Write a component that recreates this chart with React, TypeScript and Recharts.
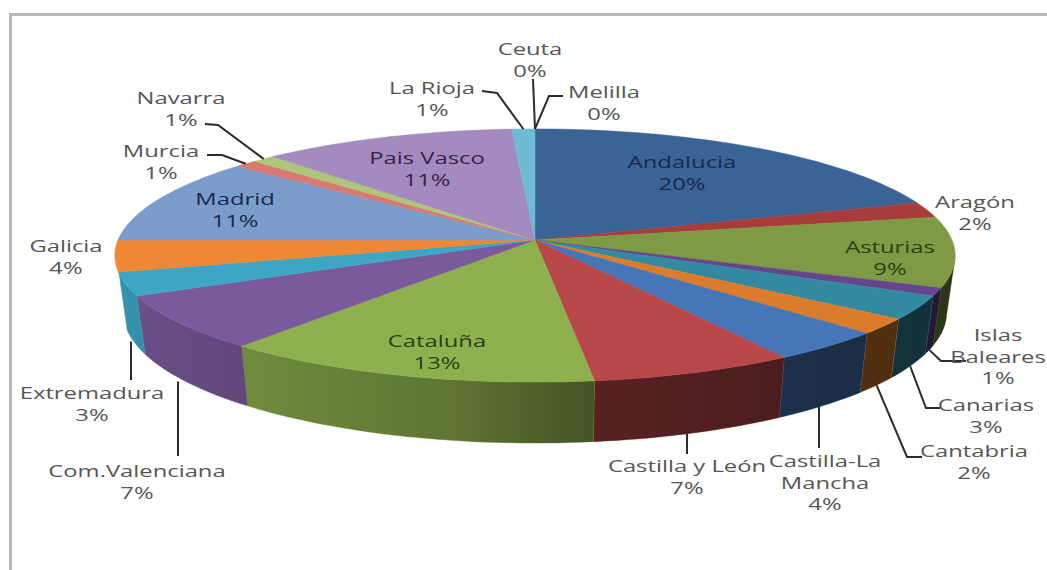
import React from "react";
import { PieChart, Pie, Cell } from "recharts";

// Regions in clockwise order starting from twelve o'clock
const regions = [
  "Andalucía", "Aragón", "Asturias", "Islas Baleares", "Canarias", "Cantabria",
  "Castilla-La Mancha", "Castilla y León", "Cataluña", "Com.Valenciana", "Extremadura",
  "Galicia", "Madrid", "Murcia", "Navarra", "País Vasco", "La Rioja", "Ceuta", "Melilla",
];
const shares = [20, 2, 9, 1, 3, 2, 4, 7, 13, 7, 3, 4, 11, 1, 1, 11, 1, 0, 0];
const topColors = [
  "#3A6396", "#A83C3A", "#7F9A44", "#65458C", "#33899F", "#DB7C2C",
  "#4676B8", "#B8474A", "#8FB04E", "#7A5A9C", "#3CA6C4",
  "#EE8834", "#7B9DCC", "#D97A72", "#AEC67C", "#A38ABF", "#6FBBD2", "#4BACC6", "#4F81BD",
];

const chartData = regions.map((name, i) => ({ name, value: shares[i] }));

// Label layout: centre x, centre y of the first line, optional leader elbow points
type Placement = {
  x: number;
  y: number;
  lines?: string[];
  color?: string;
  leader?: number[][];
  plumb?: boolean; // leader drops straight from its last elbow
};
const OUTSIDE_TEXT = "#555555";
const placements: Record<string, Placement> = {
  "Andalucía": { x: 682, y: 162, lines: ["Andalucia"], color: "#16294A" },
  "Aragón": { x: 975, y: 202 },
  "Asturias": { x: 890, y: 247, color: "#2E3E14" },
  "Islas Baleares": { x: 998, y: 335, lines: ["Islas", "Baleares"], leader: [[966, 361], [941, 361]] },
  "Canarias": { x: 986, y: 405, leader: [[940, 408], [926, 408]] },
  "Cantabria": { x: 974, y: 451, leader: [[922, 457], [907, 457]] },
  "Castilla-La Mancha": { x: 825, y: 461, lines: ["Castilla-La", "Mancha"], leader: [[819, 448]], plumb: true },
  "Castilla y León": { x: 687, y: 466, leader: [[687, 454]], plumb: true },
  "Cataluña": { x: 437, y: 341, color: "#2E3E14" },
  "Com.Valenciana": { x: 137, y: 471, leader: [[178, 456]], plumb: true },
  "Extremadura": { x: 92, y: 393, leader: [[131, 380]], plumb: true },
  "Galicia": { x: 66, y: 246 },
  "Madrid": { x: 235, y: 199, color: "#16294A" },
  "Murcia": { x: 161, y: 151, leader: [[207, 155], [222, 155]] },
  "Navarra": { x: 181, y: 98, leader: [[205, 124], [218, 125]] },
  "País Vasco": { x: 427, y: 158, lines: ["Pais Vasco"], color: "#33244E" },
  "La Rioja": { x: 432, y: 88, leader: [[482, 91], [497, 93]] },
  "Ceuta": { x: 530, y: 49, leader: [[533, 79]] },
  "Melilla": { x: 604, y: 92, leader: [[563, 96], [549, 96]] },
};

const WIDTH = 1047;
const HEIGHT = 570;
const CENTER_X = 535;
const CENTER_Y = 240;
const RADIUS = 417;
const TILT = 0.299; // vertical squash of the disc
const PERSPECTIVE = 0.1225; // front of the disc is nearer to the viewer
const DEPTH = 56; // wall height before perspective
const BASE_SCALE = 0.98; // the underside sits further away
const WALL_FROM = -8; // silhouette limits of the visible wall
const WALL_TO = -165;
const LINE_HEIGHT = 21.5;
const TEXT_STRETCH = 1.4;

// Maps a pie angle (degrees, counter-clockwise from 3 o'clock) on to the tilted disc
const project = (cx: number, cy: number, r: number, angle: number, drop = 0) => {
  const rad = (angle * Math.PI) / 180;
  const front = -Math.sin(rad);
  const s = 1 / (1 - PERSPECTIVE * front);
  const k = drop > 0 ? BASE_SCALE : 1;
  return {
    x: cx + r * k * Math.cos(rad) * s,
    y: cy + r * k * TILT * front * s + drop * s,
    front,
  };
};

const arcPoints = (cx: number, cy: number, r: number, a0: number, a1: number, drop = 0) => {
  const steps = Math.max(2, Math.ceil(Math.abs(a1 - a0) / 1.5));
  const pts: string[] = [];
  for (let i = 0; i <= steps; i++) {
    const p = project(cx, cy, r, a0 + ((a1 - a0) * i) / steps, drop);
    pts.push(`${p.x.toFixed(1)} ${p.y.toFixed(1)}`);
  }
  return pts;
};

const TopFace = (props: any) => {
  const { cx, cy, outerRadius, startAngle, endAngle, fill } = props;
  if (startAngle === endAngle) return null;
  const pts = arcPoints(cx, cy, outerRadius, startAngle, endAngle);
  const d = `M${cx} ${cy}L${pts.join("L")}Z`;
  return <path d={d} fill={fill} stroke={fill} strokeWidth={0.5} />;
};

// Outer wall of a slice, shaded darker towards the right; only the near part shows
const Wall = (props: any) => {
  const { cx, cy, outerRadius, startAngle, endAngle, fill } = props;
  const from = Math.min(startAngle, WALL_FROM);
  const to = Math.max(endAngle, WALL_TO);
  if (from <= to) return null;
  const upper = arcPoints(cx, cy, outerRadius, from, to);
  const lower = arcPoints(cx, cy, outerRadius, to, from, DEPTH);
  const d = `M${upper.join("L")}L${lower.join("L")}Z`;
  return (
    <g>
      <path d={d} fill={fill} stroke={fill} strokeWidth={0.5} />
      <path d={d} fill="url(#wallShade)" />
    </g>
  );
};

const RegionLabel = (props: any) => {
  const { cx, cy, outerRadius, midAngle, name, value } = props;
  const place = placements[name];
  if (!place) return null;
  const lines = [...(place.lines ?? [name]), `${value}%`];
  let leader = null;
  if (place.leader) {
    const onFront = project(cx, cy, outerRadius, midAngle).front > 0;
    const anchor = project(cx, cy, outerRadius, midAngle, onFront ? DEPTH : 0);
    const last = place.leader[place.leader.length - 1];
    const end = [place.plumb ? last[0] : anchor.x, anchor.y];
    const pts = [...place.leader, end].map((p) => p.join(",")).join(" ");
    leader = <polyline points={pts} fill="none" stroke="#2B2B2B" strokeWidth={2} />;
  }
  return (
    <g>
      {leader}
      {lines.map((line, i) => (
        <text
          key={i}
          transform={`translate(${place.x},${place.y + i * LINE_HEIGHT + 6}) scale(${TEXT_STRETCH},1)`}
          textAnchor="middle"
          fontFamily="'Open Sans', sans-serif"
          fontSize={17}
          fill={place.color ?? OUTSIDE_TEXT}
        >
          {line}
        </text>
      ))}
    </g>
  );
};

export default function App() {
  return (
    <div style={{ position: "absolute", left: 0, top: 0, width: WIDTH, height: HEIGHT, background: "#fff", overflow: "hidden" }}>
      {/* Frame: only its top and left edges fall inside the page */}
      <div style={{ position: "absolute", left: 9, top: 13, width: WIDTH - 9, height: 3, background: "#B8B8B8" }} />
      <div style={{ position: "absolute", left: 9, top: 13, width: 3, height: HEIGHT - 13, background: "#B8B8B8" }} />
      <div style={{ position: "absolute", left: 0, top: 0 }}>
        <PieChart width={WIDTH} height={HEIGHT} margin={{ top: 0, right: 0, bottom: 0, left: 0 }}>
          <defs>
            <linearGradient id="wallShade" gradientUnits="userSpaceOnUse" x1="120" y1="0" x2="950" y2="0">
              <stop offset="0%" stopColor="#000" stopOpacity={0.12} />
              <stop offset="13%" stopColor="#000" stopOpacity={0.2} />
              <stop offset="40%" stopColor="#000" stopOpacity={0.34} />
              <stop offset="57%" stopColor="#000" stopOpacity={0.52} />
              <stop offset="100%" stopColor="#000" stopOpacity={0.65} />
            </linearGradient>
          </defs>
          <Pie
            data={chartData}
            dataKey="value"
            nameKey="name"
            cx={CENTER_X}
            cy={CENTER_Y}
            outerRadius={RADIUS}
            startAngle={90}
            endAngle={-270}
            stroke="none"
            shape={Wall}
            inactiveShape={Wall}
            isAnimationActive={false}
          >
            {chartData.map((d, i) => (
              <Cell key={d.name} fill={topColors[i]} />
            ))}
          </Pie>
          <Pie
            data={chartData}
            dataKey="value"
            nameKey="name"
            cx={CENTER_X}
            cy={CENTER_Y}
            outerRadius={RADIUS}
            startAngle={90}
            endAngle={-270}
            stroke="none"
            shape={TopFace}
            inactiveShape={TopFace}
            label={RegionLabel}
            labelLine={false}
            isAnimationActive={false}
          >
            {chartData.map((d, i) => (
              <Cell key={d.name} fill={topColors[i]} />
            ))}
          </Pie>
        </PieChart>
      </div>
    </div>
  );
}
